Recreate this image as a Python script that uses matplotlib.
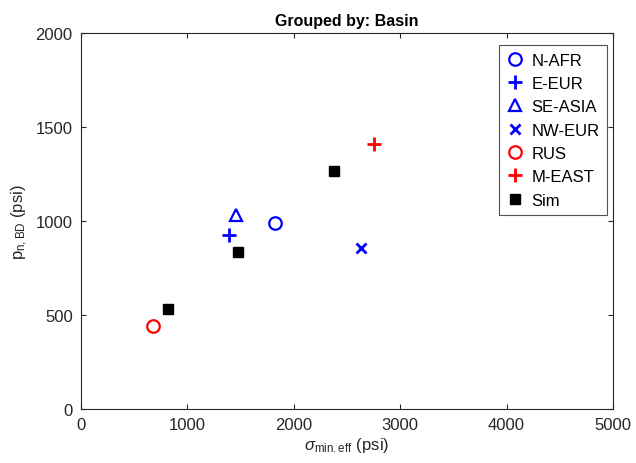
import matplotlib
matplotlib.use("Agg")
import matplotlib.pyplot as plt

plt.rcParams['font.family'] = ['Liberation Sans', 'DejaVu Sans']
plt.rcParams['mathtext.fontset'] = 'custom'
plt.rcParams['mathtext.rm'] = 'Liberation Sans'
plt.rcParams['mathtext.it'] = 'Liberation Sans:italic'

# data (sigma_min,eff vs p_n,BD, psi)
groups = ['N-AFR', 'E-EUR', 'SE-ASIA', 'NW-EUR', 'RUS', 'M-EAST']
group_x = [1820, 1390, 1455, 2630, 675, 2755]
group_y = [990, 925, 1030, 855, 440, 1410]
group_colors = ['blue', 'blue', 'blue', 'blue', 'red', 'red']
group_markers = ['o', '+', '^', 'x', 'o', '+']

sim_x = [815, 1480, 2375]
sim_y = [530, 835, 1265]

marker_sizes = {'o': 9, '+': 10, '^': 9, 'x': 6.5}

fig = plt.figure(figsize=(6.36, 4.64), dpi=100)
ax = fig.add_axes([0.1274, 0.1164, 0.8364, 0.8103])

for name, x, y, c, m in zip(groups, group_x, group_y, group_colors, group_markers):
    filled = m in ('+', 'x')
    ax.plot(x, y, linestyle='none', marker=m, markersize=marker_sizes[m],
            markeredgewidth=2 if filled else 1.6, color=c,
            markerfacecolor=c if filled else 'none', label=name)

ax.plot(sim_x, sim_y, linestyle='none', marker='s', markersize=7.5,
        color='black', label='Sim')

ax.set_xlim(0, 5000)
ax.set_ylim(0, 2000)
ax.set_xticks(range(0, 5001, 1000))
ax.set_yticks(range(0, 2001, 500))

gray = (0.15, 0.15, 0.15)
for s in ax.spines.values():
    s.set_color(gray)
    s.set_linewidth(0.8)
ax.tick_params(direction='in', top=True, right=True, colors=gray,
               labelsize=12, length=3.5, pad=6)

ax.set_xlabel(r'$\sigma_{\mathrm{min.eff}}$ (psi)', fontsize=12, color=gray,
              labelpad=2)
ax.set_ylabel(r'p$_{\mathrm{n,BD}}$ (psi)', fontsize=12, color=gray)
ax.set_title('Grouped by: Basin', fontsize=11.5, fontweight='bold')

leg = ax.legend(loc='upper right', fontsize=12, frameon=True, fancybox=False,
                edgecolor=gray, handlelength=1.0, handletextpad=0.5,
                borderpad=0.45, labelspacing=0.5, borderaxespad=0,
                bbox_to_anchor=(0.989, 0.968))
leg.get_frame().set_linewidth(0.8)

fig.savefig('out.png', dpi=100, facecolor='white')
